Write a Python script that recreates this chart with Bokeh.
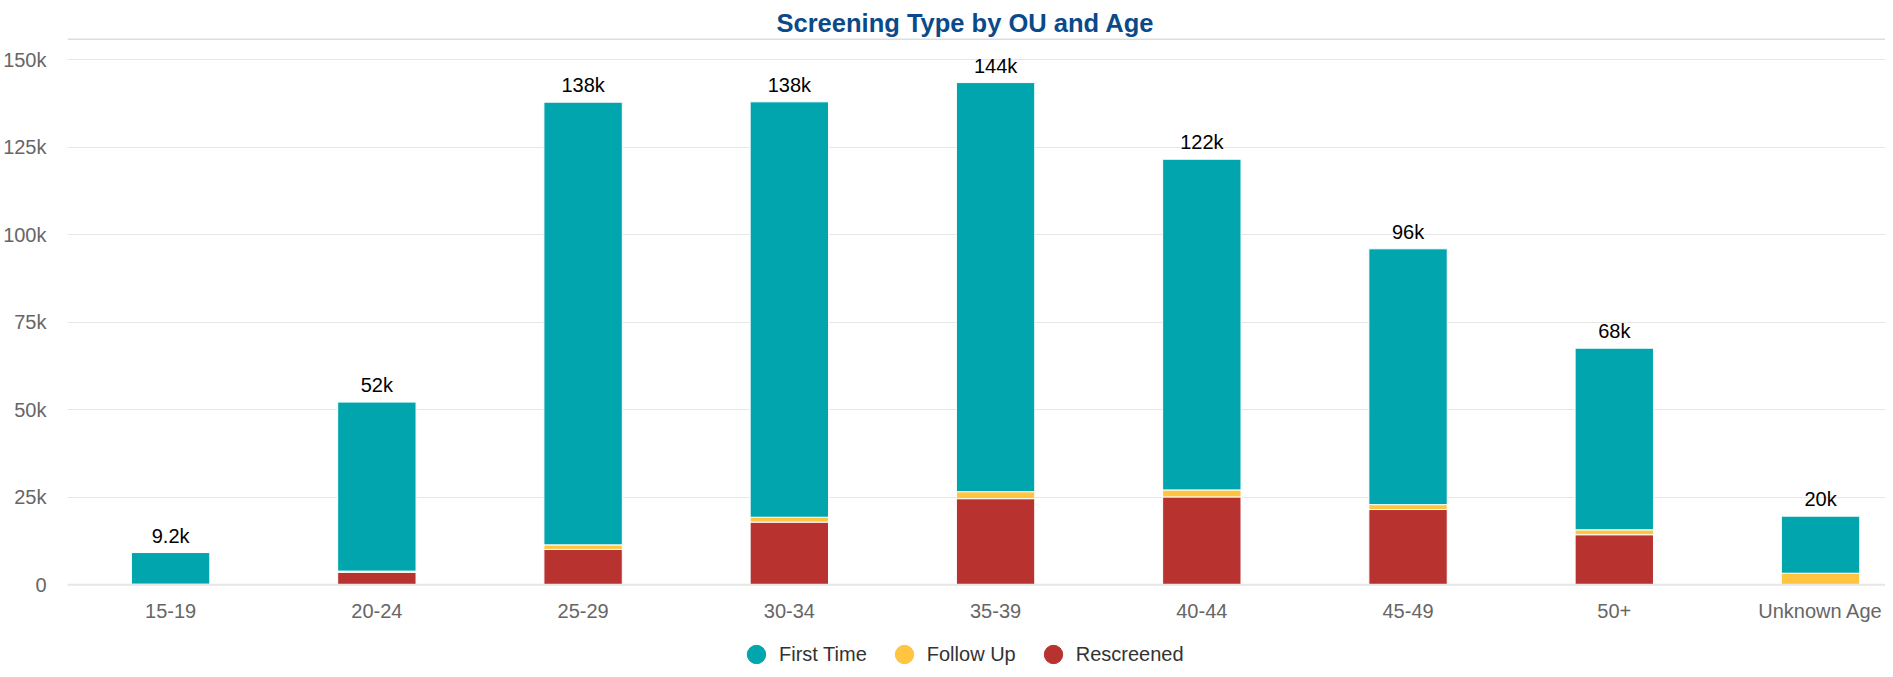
import math
from bokeh.plotting import figure
from bokeh.models import (Range1d, FixedTicker, Span, Legend, LegendItem,
                          ColumnDataSource)
from bokeh.embed import file_html
from bokeh.resources import INLINE
from bokeh.core.properties import value

# ---------------- data ----------------
categories = ["15-19", "20-24", "25-29", "30-34", "35-39",
              "40-44", "45-49", "50+", "Unknown Age"]
first_time = [9050, 48300, 126500, 118700, 116900, 94500, 73100, 51900, 16300]
follow_up = [50, 300, 1300, 1400, 2000, 2000, 1400, 1400, 3300]
rescreened = [100, 3600, 10100, 17900, 24600, 25100, 21500, 14300, 0]
y_ticks = [0, 25000, 50000, 75000, 100000, 125000, 150000]
y_tick_labels = ["0", "25k", "50k", "75k", "100k", "125k", "150k"]
legend_names = ["First Time", "Follow Up", "Rescreened"]

# ---------------- styles ----------------
COL_FIRST = "#00A5AE"
COL_FOLLOW = "#FFC540"
COL_RESCR = "#B83230"
FONT = "Liberation Sans"


def fmt(t):
    return f"{t / 1000:.1f}k" if t < 10000 else f"{round(t / 1000)}k"


x = list(range(len(categories)))
totals = [a + b + c for a, b, c in zip(first_time, follow_up, rescreened)]
source = ColumnDataSource(dict(
    x=x, first=first_time, follow=follow_up, rescr=rescreened,
    total=totals, label=[fmt(t) for t in totals],
    base=[0] * len(categories), cat=categories))

p = figure(width=1885, height=677, output_backend="svg", toolbar_location=None,
           x_range=Range1d(-0.5, 8.315), y_range=Range1d(-26500, 156100),
           x_axis_location=None,
           min_border_left=62, min_border_right=0, min_border_top=38,
           min_border_bottom=0)
p.background_fill_color = "white"
p.border_fill_color = "white"
p.outline_line_color = None

# title
p.title.text = "Screening Type by OU and Age"
p.title.align = "left"
p.title.offset = 709
p.title.vertical_align = "top"
p.title.text_line_height = 0.9
p.title.text_font = FONT
p.title.text_font_size = "25.5px"
p.title.text_font_style = "bold"
p.title.text_color = "#0B4A8A"
p.title.standoff = 0

# grid
p.xgrid.visible = False
p.ygrid.grid_line_color = "#E6E6E6"
p.ygrid.grid_line_width = 1

# baseline (x axis line)
p.add_layout(Span(location=0, dimension="width", line_color="#E6E6E6",
                  line_width=2))

# stacked bars (bottom -> top)
renderers = p.vbar_stack(["rescr", "follow", "first"], x="x", width=0.38,
                         color=[COL_RESCR, COL_FOLLOW, COL_FIRST],
                         line_color="white", line_width=1, source=source)

# stack total labels
p.text(x="x", y="total", text="label", source=source, text_align="center",
       text_baseline="bottom", y_offset=-6, text_font=value(FONT),
       text_font_size="20px", text_color="#000000")

# category labels under the baseline
p.text(x="x", y="base", text="cat", source=source, text_align="center",
       text_baseline="alphabetic", y_offset=26, text_font=value(FONT),
       text_font_size="20px", text_color="#666666")

# separator under the title
p.add_layout(Span(location=p.y_range.end, dimension="width",
                  line_color="#DDDDDD", line_width=3))

# y axis
p.yaxis.ticker = FixedTicker(ticks=y_ticks)
p.yaxis.major_label_overrides = {t: l for t, l in zip(y_ticks, y_tick_labels)}
p.yaxis.major_tick_line_color = None
p.yaxis.minor_tick_line_color = None
p.yaxis.axis_line_color = None
p.yaxis.major_label_text_font = FONT
p.yaxis.major_label_text_font_size = "20px"
p.yaxis.major_label_text_color = "#666666"
p.yaxis.major_label_standoff = 15

# legend with round markers (marker size = 0.4 * glyph box)
dummies = []
for name, col in zip(legend_names, [COL_FIRST, COL_FOLLOW, COL_RESCR]):
    r = p.scatter(x=[math.nan], y=[math.nan], marker="circle", size=19,
                  color=col)
    dummies.append(LegendItem(label=name, renderers=[r]))
legend = Legend(items=dummies, orientation="horizontal", location=(666, 0),
                border_line_color=None, background_fill_alpha=0,
                label_text_font=FONT, label_text_font_size="20px",
                label_text_color="#333333", glyph_width=46, glyph_height=46,
                label_standoff=0, spacing=14, padding=0, margin=0)
p.add_layout(legend, "center")

open("out.html", "w").write(file_html(p, INLINE))
